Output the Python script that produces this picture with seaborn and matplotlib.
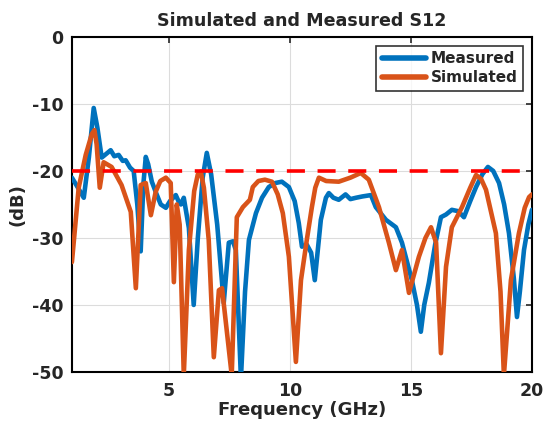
import numpy as np
import pandas as pd
import matplotlib
matplotlib.use("Agg")
import matplotlib.pyplot as plt
import seaborn as sns

# Measured S12
meas_freq = [1.0, 1.25, 1.49, 1.70, 1.90, 2.05, 2.23, 2.40, 2.60, 2.75, 2.93, 3.10, 3.22, 3.40, 3.55, 3.70,
             3.84, 3.95, 4.05, 4.15, 4.30, 4.50, 4.67, 4.88, 5.05, 5.29, 5.40, 5.50, 5.62, 5.83, 6.03,
             6.20, 6.40, 6.57, 6.75, 7.00, 7.27, 7.48, 7.65, 7.77, 7.98, 8.15, 8.31, 8.60, 8.85, 9.13,
             9.40, 9.67, 9.96, 10.20, 10.37, 10.50, 10.70, 10.88, 11.03, 11.28, 11.49, 11.61, 11.80,
             12.02, 12.30, 12.50, 12.73, 13.00, 13.35, 13.55, 13.97, 14.38, 14.63, 15.04, 15.25, 15.41,
             15.55, 15.74, 16.00, 16.24, 16.45, 16.69, 16.95, 17.19, 17.45, 17.69, 17.95, 18.18, 18.40,
             18.64, 18.85, 19.05, 19.25, 19.38, 19.50, 19.67, 19.85, 20.0]
meas_db = [-21.0, -22.5, -24.0, -18.0, -10.6, -13.5, -18.0, -17.5, -16.9, -17.8, -17.6, -18.5, -18.4, -19.5,
           -20.0, -25.0, -32.0, -22.0, -17.9, -19.0, -21.6, -23.5, -25.0, -25.5, -24.5, -23.6, -24.5,
           -25.0, -24.0, -28.5, -40.0, -30.0, -21.0, -17.3, -20.5, -28.0, -39.7, -30.7, -30.5, -31.8,
           -51.0, -38.0, -30.3, -26.3, -24.0, -22.4, -21.8, -21.6, -22.4, -24.5, -27.8, -31.3, -31.0,
           -32.2, -36.3, -27.3, -24.0, -23.3, -24.0, -24.3, -23.5, -24.2, -24.0, -23.8, -23.6, -25.4,
           -27.3, -28.4, -30.7, -36.3, -40.0, -44.0, -40.0, -36.7, -31.0, -26.9, -26.5, -25.8, -26.0,
           -26.9, -24.5, -22.4, -20.5, -19.4, -20.0, -21.8, -25.0, -29.3, -36.0, -41.8, -38.0, -31.8,
           -28.0, -25.8]

# Simulated S12
sim_freq = [1.0, 1.28, 1.57, 1.82, 1.93, 2.02, 2.15, 2.31, 2.64, 3.05, 3.43, 3.64, 3.84, 4.05, 4.26, 4.46,
            4.65, 4.88, 5.08, 5.21, 5.33, 5.45, 5.62, 5.83, 6.05, 6.20, 6.32, 6.45, 6.65, 6.86, 7.07,
            7.20, 7.36, 7.60, 7.81, 8.06, 8.35, 8.47, 8.70, 8.97, 9.26, 9.50, 9.71, 9.96, 10.25, 10.46,
            10.70, 10.91, 11.05, 11.20, 11.50, 12.02, 12.50, 12.93, 13.26, 13.68, 14.09, 14.38, 14.63,
            14.92, 15.33, 15.60, 15.83, 16.04, 16.24, 16.45, 16.69, 17.11, 17.45, 17.69, 17.90, 18.10,
            18.51, 18.70, 18.84, 19.13, 19.46, 19.70, 19.88, 20.0]
sim_db = [-33.6, -22.5, -17.6, -14.5, -13.9, -16.0, -22.5, -18.7, -19.4, -22.1, -26.1, -37.5, -22.1, -21.8,
          -26.6, -23.1, -21.5, -21.0, -21.8, -36.6, -25.0, -28.0, -50.5, -31.8, -23.0, -20.5, -20.1,
          -22.5, -30.3, -47.8, -37.8, -37.5, -42.7, -50.5, -26.9, -25.4, -24.3, -22.4, -21.5, -21.3,
          -21.6, -23.5, -26.3, -32.8, -48.5, -36.3, -30.3, -25.4, -22.5, -21.0, -21.5, -21.6, -21.0,
          -20.3, -21.3, -25.4, -30.7, -34.8, -31.8, -38.2, -32.8, -30.0, -28.4, -30.7, -47.2, -34.3,
          -28.4, -25.4, -22.5, -20.6, -21.2, -22.8, -29.3, -38.0, -50.5, -36.3, -29.3, -25.5, -23.9,
          -23.5]

threshold = -20
x_ticks = [5, 10, 15, 20]
y_ticks = [0, -10, -20, -30, -40, -50]

meas = pd.DataFrame({"Frequency": meas_freq, "dB": meas_db})
sim = pd.DataFrame({"Frequency": sim_freq, "dB": sim_db})

sns.set_style("white")
plt.rcParams['font.family'] = ['DejaVu Sans']
plt.rcParams['font.weight'] = 'bold'
plt.rcParams['axes.unicode_minus'] = False

fig = plt.figure(figsize=(5.49, 4.30), dpi=100)
ax = fig.add_axes([0.131, 0.135, 0.838, 0.779])

sns.lineplot(data=meas, x="Frequency", y="dB", sort=False, color="#0072BD", linewidth=3.3,
             label="Measured", ax=ax, zorder=3)
sns.lineplot(data=sim, x="Frequency", y="dB", sort=False, color="#D95319", linewidth=3.3,
             label="Simulated", ax=ax, zorder=4)
for ln in ax.get_lines():
    ln.set_solid_joinstyle("round")
ax.axhline(threshold, color="red", linestyle=(0, (5, 3.5)), linewidth=2.6, zorder=5)

ax.set_xlim(1, 20)
ax.set_ylim(-50, 0)
ax.set_xticks(x_ticks)
ax.set_yticks(y_ticks)
ax.grid(True, color="#dcdcdc", linewidth=0.8)
ax.tick_params(axis="x", direction="in", length=4, width=1.2, labelsize=12.5, top=True, pad=7)
ax.tick_params(axis="y", direction="in", length=4, width=1.2, labelsize=12.5, right=True, pad=6)
for lbl in ax.get_xticklabels() + ax.get_yticklabels():
    lbl.set_fontweight("bold")
for s in ax.spines.values():
    s.set_color("black")
    s.set_linewidth(1.5)

ax.set_title("Simulated and Measured S12", fontsize=12.6, fontweight="bold", pad=8)
ax.set_xlabel("Frequency (GHz)", fontsize=13, fontweight="bold", labelpad=1)
ax.set_ylabel("(dB)", fontsize=13, fontweight="bold", labelpad=4)

leg = ax.legend(loc="upper right", fontsize=11, frameon=True, fancybox=False, handlelength=2.9,
                borderpad=0.35, labelspacing=0.25, handletextpad=0.3, borderaxespad=0.6)
leg.get_frame().set_edgecolor("black")
leg.get_frame().set_linewidth(1.2)
for t in leg.get_texts():
    t.set_fontweight("bold")
for l in leg.get_lines():
    l.set_linewidth(4)

fig.savefig("out.png", dpi=100)
